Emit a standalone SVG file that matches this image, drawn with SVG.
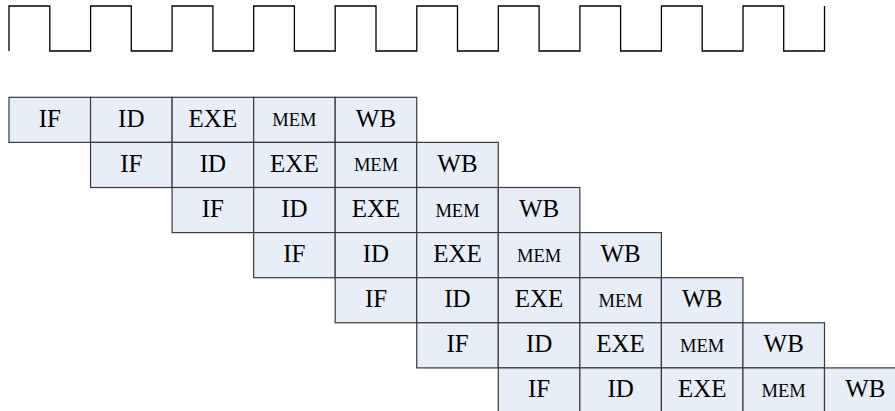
<svg xmlns="http://www.w3.org/2000/svg" width="895" height="411" viewBox="0 0 895 411">
<style>
.c{fill:#E8EEF8;stroke:#3a3a3a;stroke-width:1.2}
.t{font-family:'Liberation Serif','Times New Roman',Times,'Nimbus Roman','Nimbus Roman No9 L','FreeSerif','DejaVu Serif','Noto Serif',serif;font-size:25px;fill:#000;text-anchor:middle}
.m{font-size:18.5px}
.clk{fill:none;stroke:#000;stroke-width:1.3}
</style>
<rect width="895" height="411" fill="#fff"/>
<g id="clock">
<path class="clk" d="M9,51 V6 H49.8 V51 H90.6 V6 H131.3 V51 H172.1 V6 H212.9 V51 H253.7 V6 H294.4 V51 H335.2 V6 H376 V51 H416.8 V6 H457.5 V51 H498.3 V6 H539.1 V51 H579.9 V6 H620.6 V51 H661.4 V6 H702.2 V51 H743 V6 H783.7 V51 H824.5 V6"/>
</g>
<g id="connectors"></g>
<g id="row1">
<g id="r1-IF"><rect class="c" x="9" y="97.3" width="81.55" height="45.1"/><text class="t" x="49.8" y="126.8">IF</text></g>
<g id="r1-ID"><rect class="c" x="90.55" y="97.3" width="81.55" height="45.1"/><text class="t" x="131.3" y="126.8">ID</text></g>
<g id="r1-EXE"><rect class="c" x="172.1" y="97.3" width="81.55" height="45.1"/><text class="t" x="212.9" y="126.8">EXE</text></g>
<g id="r1-MEM"><rect class="c" x="253.65" y="97.3" width="81.55" height="45.1"/><text class="t m" x="294.4" y="126.3">MEM</text></g>
<g id="r1-WB"><rect class="c" x="335.2" y="97.3" width="81.55" height="45.1"/><text class="t" x="376" y="126.8">WB</text></g>
</g>
<g id="row2">
<g id="r2-IF"><rect class="c" x="90.55" y="142.4" width="81.55" height="45.1"/><text class="t" x="131.3" y="171.9">IF</text></g>
<g id="r2-ID"><rect class="c" x="172.1" y="142.4" width="81.55" height="45.1"/><text class="t" x="212.9" y="171.9">ID</text></g>
<g id="r2-EXE"><rect class="c" x="253.65" y="142.4" width="81.55" height="45.1"/><text class="t" x="294.4" y="171.9">EXE</text></g>
<g id="r2-MEM"><rect class="c" x="335.2" y="142.4" width="81.55" height="45.1"/><text class="t m" x="376" y="171.4">MEM</text></g>
<g id="r2-WB"><rect class="c" x="416.75" y="142.4" width="81.55" height="45.1"/><text class="t" x="457.5" y="171.9">WB</text></g>
</g>
<g id="row3">
<g id="r3-IF"><rect class="c" x="172.1" y="187.5" width="81.55" height="45.1"/><text class="t" x="212.9" y="217">IF</text></g>
<g id="r3-ID"><rect class="c" x="253.65" y="187.5" width="81.55" height="45.1"/><text class="t" x="294.4" y="217">ID</text></g>
<g id="r3-EXE"><rect class="c" x="335.2" y="187.5" width="81.55" height="45.1"/><text class="t" x="376" y="217">EXE</text></g>
<g id="r3-MEM"><rect class="c" x="416.75" y="187.5" width="81.55" height="45.1"/><text class="t m" x="457.5" y="216.5">MEM</text></g>
<g id="r3-WB"><rect class="c" x="498.3" y="187.5" width="81.55" height="45.1"/><text class="t" x="539.1" y="217">WB</text></g>
</g>
<g id="row4">
<g id="r4-IF"><rect class="c" x="253.65" y="232.6" width="81.55" height="45.1"/><text class="t" x="294.4" y="262.1">IF</text></g>
<g id="r4-ID"><rect class="c" x="335.2" y="232.6" width="81.55" height="45.1"/><text class="t" x="376" y="262.1">ID</text></g>
<g id="r4-EXE"><rect class="c" x="416.75" y="232.6" width="81.55" height="45.1"/><text class="t" x="457.5" y="262.1">EXE</text></g>
<g id="r4-MEM"><rect class="c" x="498.3" y="232.6" width="81.55" height="45.1"/><text class="t m" x="539.1" y="261.6">MEM</text></g>
<g id="r4-WB"><rect class="c" x="579.85" y="232.6" width="81.55" height="45.1"/><text class="t" x="620.6" y="262.1">WB</text></g>
</g>
<g id="row5">
<g id="r5-IF"><rect class="c" x="335.2" y="277.7" width="81.55" height="45.1"/><text class="t" x="376" y="307.2">IF</text></g>
<g id="r5-ID"><rect class="c" x="416.75" y="277.7" width="81.55" height="45.1"/><text class="t" x="457.5" y="307.2">ID</text></g>
<g id="r5-EXE"><rect class="c" x="498.3" y="277.7" width="81.55" height="45.1"/><text class="t" x="539.1" y="307.2">EXE</text></g>
<g id="r5-MEM"><rect class="c" x="579.85" y="277.7" width="81.55" height="45.1"/><text class="t m" x="620.6" y="306.7">MEM</text></g>
<g id="r5-WB"><rect class="c" x="661.4" y="277.7" width="81.55" height="45.1"/><text class="t" x="702.2" y="307.2">WB</text></g>
</g>
<g id="row6">
<g id="r6-IF"><rect class="c" x="416.75" y="322.8" width="81.55" height="45.1"/><text class="t" x="457.5" y="352.3">IF</text></g>
<g id="r6-ID"><rect class="c" x="498.3" y="322.8" width="81.55" height="45.1"/><text class="t" x="539.1" y="352.3">ID</text></g>
<g id="r6-EXE"><rect class="c" x="579.85" y="322.8" width="81.55" height="45.1"/><text class="t" x="620.6" y="352.3">EXE</text></g>
<g id="r6-MEM"><rect class="c" x="661.4" y="322.8" width="81.55" height="45.1"/><text class="t m" x="702.2" y="351.8">MEM</text></g>
<g id="r6-WB"><rect class="c" x="742.95" y="322.8" width="81.55" height="45.1"/><text class="t" x="783.7" y="352.3">WB</text></g>
</g>
<g id="row7">
<g id="r7-IF"><rect class="c" x="498.3" y="367.9" width="81.55" height="45.1"/><text class="t" x="539.1" y="397.4">IF</text></g>
<g id="r7-ID"><rect class="c" x="579.85" y="367.9" width="81.55" height="45.1"/><text class="t" x="620.6" y="397.4">ID</text></g>
<g id="r7-EXE"><rect class="c" x="661.4" y="367.9" width="81.55" height="45.1"/><text class="t" x="702.2" y="397.4">EXE</text></g>
<g id="r7-MEM"><rect class="c" x="742.95" y="367.9" width="81.55" height="45.1"/><text class="t m" x="783.7" y="396.9">MEM</text></g>
<g id="r7-WB"><rect class="c" x="824.5" y="367.9" width="81.55" height="45.1"/><text class="t" x="865.3" y="397.4">WB</text></g>
</g>
</svg>
